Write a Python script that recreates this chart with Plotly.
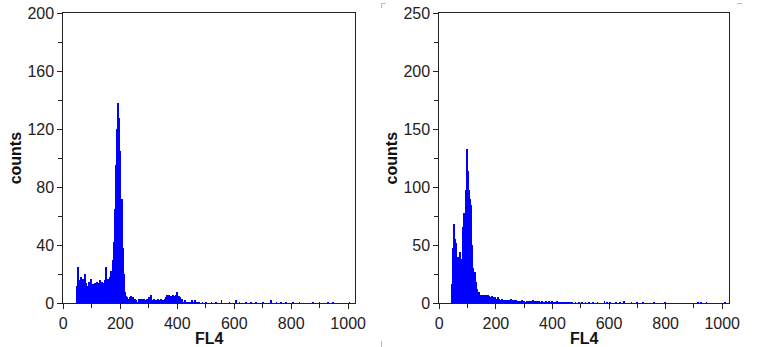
import plotly.graph_objects as go

BIN = 4

# ---- Left panel (channel start = 48, step 4) ----
left_start = 48
left_counts = [
    12, 25, 16, 18, 14, 17, 13, 20, 14, 12, 15, 13, 17, 11, 13, 12, 14, 15, 13, 14,
    16, 13, 15, 14, 16, 25, 13, 17, 15, 18, 22, 30, 42, 65, 95, 120, 138, 128, 105, 72,
    38, 20, 8, 5, 4, 3, 4, 5, 3, 4, 2, 3, 2, 1, 3, 2, 3, 3, 2, 3,
    2, 3, 2, 4, 2, 6, 2, 3, 2, 1, 2, 3, 2, 2, 3, 2, 2, 3, 4, 6,
    5, 6, 5, 5, 6, 4, 5, 6, 8, 5, 4, 2, 3, 1, 1, 2, 1, 0, 1, 1,
    0, 2, 1, 2, 1, 1,
]
left_tail_x = [478, 490, 502, 521, 538, 556, 585, 608, 620, 643, 660, 678, 702, 731,
               749, 766, 784, 807, 830, 877, 900, 930, 947, 1006]
left_tail_y = [1, 1, 1, 1, 1, 2, 1, 2, 1, 1, 1, 1, 1, 2, 1, 1, 1, 1, 1, 1, 1, 1, 1, 1]

# ---- Right panel (channel start = 44, step 4) ----
right_start = 44
right_counts = [
    17, 48, 68, 55, 52, 40, 36, 44, 31, 38, 66, 78, 98, 133, 114, 98, 90, 85, 50, 30,
    27, 18, 12, 9, 10, 7, 7, 7, 6, 7, 7, 6, 7, 6, 5, 6, 5, 4, 5, 4,
    4, 5, 4, 3, 4, 3, 3, 3, 2, 3, 3, 2, 4, 3, 2, 3, 2, 3, 2, 2,
    2, 2, 3, 2, 2, 1, 2, 2, 1, 2, 1, 2, 3, 2, 1, 2, 1, 2, 1, 1,
    2, 1, 1, 2, 1, 1, 2, 1, 2, 1, 0, 1, 1, 2, 1, 1, 1, 1, 1, 1,
    1, 1, 1, 1, 1,
]
right_tail_x = [470, 482, 494, 506, 518, 530, 545, 560, 585, 595, 605, 625, 640, 655,
                680, 700, 720, 760, 800, 915, 925, 945, 1010]
right_tail_y = [1, 1, 1, 1, 1, 1, 1, 1, 2, 1, 1, 1, 1, 2, 1, 1, 1, 1, 1, 1, 1, 1, 1]

x_ticks = [0, 200, 400, 600, 800, 1000]
left_y_ticks = [0, 40, 80, 120, 160, 200]
right_y_ticks = [0, 50, 100, 150, 200, 250]

BLUE = "#0000ff"

def centers(start, n):
    return [start + BIN * i + BIN / 2 for i in range(n)]

fig = go.Figure()
fig.add_trace(go.Bar(x=centers(left_start, len(left_counts)), y=left_counts, width=BIN,
                     marker=dict(color=BLUE, line=dict(width=0)), xaxis="x", yaxis="y"))
fig.add_trace(go.Bar(x=left_tail_x, y=left_tail_y, width=2.5,
                     marker=dict(color=BLUE, line=dict(width=0)), xaxis="x", yaxis="y"))
fig.add_trace(go.Bar(x=centers(right_start, len(right_counts)), y=right_counts, width=BIN,
                     marker=dict(color=BLUE, line=dict(width=0)), xaxis="x2", yaxis="y2"))
fig.add_trace(go.Bar(x=right_tail_x, y=right_tail_y, width=2.5,
                     marker=dict(color=BLUE, line=dict(width=0)), xaxis="x2", yaxis="y2"))

W, H = 780, 347
ydom = [(H - 303.3) / H, (H - 13) / H]
font_tick = dict(family="Arial, Liberation Sans, sans-serif", size=16, color="#222")
font_title = dict(family="Arial, Liberation Sans, sans-serif", size=16, color="#111")

def xaxis(domain, anchor):
    return dict(domain=domain, anchor=anchor, range=[0, 1024], tickvals=x_ticks,
                automargin=False,
                ticks="outside", ticklen=5, tickcolor="#222", showline=True, linecolor="#222",
                linewidth=1, mirror=True, showgrid=False, zeroline=False, tickfont=font_tick,
                minor=dict(dtick=100, tick0=0, ticks="outside", ticklen=4, tickcolor="#222"),
                title=dict(text="<b>FL4</b>", font=font_title, standoff=1))

def yaxis(domain, anchor, rng, ticks, minor):
    return dict(domain=domain, anchor=anchor, range=rng, tickvals=ticks,
                automargin=False,
                ticks="outside", ticklen=5, tickcolor="#222", showline=True, linecolor="#222",
                linewidth=1, mirror=True, showgrid=False, zeroline=False, tickfont=font_tick,
                minor=dict(dtick=minor, tick0=0, ticks="outside", ticklen=4, tickcolor="#222"),
                title=dict(text="<b>counts</b>", font=font_title, standoff=1))

fig.update_layout(
    width=W, height=H, margin=dict(l=0, r=0, t=0, b=0),
    paper_bgcolor="white", plot_bgcolor="white", showlegend=False, bargap=0,
    xaxis=xaxis([63.3 / W, 355 / W], "y"),
    yaxis=yaxis(ydom, "x", [0, 200], left_y_ticks, 20),
    xaxis2=xaxis([439.3 / W, 729 / W], "y2"),
    yaxis2=yaxis(ydom, "x2", [0, 250], right_y_ticks, 25),
)

# faint crop marks
marks = [
    (381.5, 3.5, 386, 3.5), (381.5, 3.5, 381.5, 8),
    (381.5, 341, 381.5, 347),
    (737, 3.5, 742, 3.5),
]
for x0, y0, x1, y1 in marks:
    fig.add_shape(type="line", xref="paper", yref="paper",
                  x0=x0 / W, x1=x1 / W, y0=1 - y0 / H, y1=1 - y1 / H,
                  line=dict(color="#bbbbbb", width=1))

fig.write_html("out.html")
